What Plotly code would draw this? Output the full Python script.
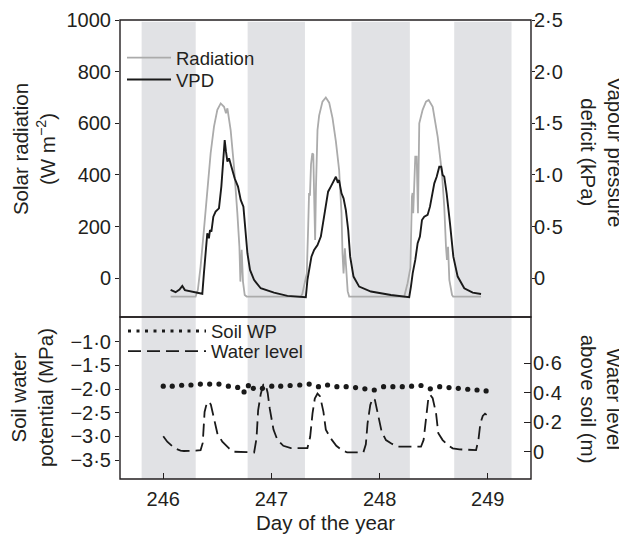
import plotly.graph_objects as go

# ---------------- data ----------------
night_start = [245.80, 246.78, 247.74, 248.69]
night_end = [246.30, 247.31, 248.28, 249.22]

rad_day = [246.068, 246.299, 246.320, 246.345, 246.376, 246.407, 246.438, 246.469, 246.500,
           246.531, 246.562, 246.580, 246.593, 246.623, 246.654, 246.685, 246.704, 246.713,
           246.725, 246.737, 246.753, 246.771,
           247.271, 247.285, 247.302, 247.327, 247.340, 247.348, 247.356, 247.366, 247.378,
           247.387, 247.396, 247.404, 247.412, 247.426, 247.441, 247.472, 247.503, 247.534,
           247.565, 247.596, 247.626, 247.648, 247.657, 247.667, 247.679, 247.691, 247.705,
           247.719,
           248.228, 248.259, 248.285, 248.299, 248.305, 248.311, 248.322, 248.330, 248.343,
           248.355, 248.367, 248.398, 248.429, 248.454, 248.491, 248.537, 248.577, 248.598,
           248.614, 248.623, 248.633, 248.645, 248.670, 248.680, 248.938]
rad_val = [-71, -71, -45, 45, 187, 342, 484, 587, 652,
           677, 664, 639, 658, 574, 432, 252, 122, -13,
           110, -13, -65, -71,
           -71, -62, -32, 19, 200, 330, 320, 440, 484,
           480, 300, 148, 350, 574, 630, 684, 700, 680,
           620, 530, 419, 252, 98, 19, 116, 20, -50,
           -71,
           -71, -19, 40, 316, 330, 252, 380, 471, 471,
           252, 600, 652, 684, 690, 664, 548, 406, 277,
           122, 71, 122, -6, -65, -71, -71]

vpd_day = [246.068, 246.114, 246.150, 246.176, 246.200, 246.260, 246.361, 246.376, 246.392,
           246.407, 246.422, 246.432, 246.445, 246.463, 246.484, 246.515, 246.537, 246.556,
           246.568, 246.580, 246.593, 246.608, 246.623, 246.639, 246.660, 246.691, 246.716,
           246.741, 246.762, 246.778, 246.802, 246.839, 246.901, 247.024, 247.148, 247.318,
           247.333, 247.349, 247.370, 247.395, 247.426, 247.457, 247.481, 247.503, 247.524,
           247.549, 247.580, 247.596, 247.611, 247.625, 247.648, 247.667, 247.688, 247.710,
           247.728, 247.759, 247.811, 247.920, 248.105, 248.274,
           248.290, 248.306, 248.330, 248.352, 248.373, 248.392, 248.413, 248.444, 248.466,
           248.491, 248.506, 248.528, 248.552, 248.570, 248.583, 248.598, 248.620, 248.651,
           248.682, 248.722, 248.783, 248.861, 248.938]
vpd_val = [-0.113, -0.135, -0.110, -0.075, -0.115, -0.128, -0.150, 0.050, 0.250,
           0.435, 0.387, 0.467, 0.450, 0.596, 0.645, 0.677, 0.887, 1.113,
           1.338, 1.225, 1.129, 1.161, 1.097, 1.048, 0.968, 0.887, 0.758,
           0.693, 0.467, 0.242, 0.080, -0.016, -0.097, -0.139, -0.171, -0.184,
           -0.016, 0.080, 0.209, 0.274, 0.322, 0.403, 0.564, 0.726, 0.838,
           0.887, 0.951, 0.983, 0.935, 0.950, 0.822, 0.774, 0.661, 0.467,
           0.209, 0.016, -0.081, -0.129, -0.162, -0.184,
           -0.081, 0.048, 0.177, 0.339, 0.403, 0.564, 0.596, 0.613, 0.693,
           0.822, 0.919, 0.983, 1.080, 1.080, 1.000, 0.983, 0.822, 0.532,
           0.209, 0.016, -0.097, -0.139, -0.152]

wp_day = [246.000, 246.083, 246.170, 246.256, 246.343, 246.429, 246.515, 246.602, 246.688,
          246.747, 246.787, 246.833, 246.917, 247.003, 247.086, 247.173, 247.262, 247.349,
          247.435, 247.519, 247.605, 247.691, 247.778, 247.864, 247.951, 248.037, 248.123,
          248.210, 248.296, 248.383, 248.469, 248.556, 248.642, 248.728, 248.815, 248.901,
          248.985]
wp_val = [-1.94, -1.94, -1.92, -1.915, -1.895, -1.895, -1.895, -1.94, -1.965,
          -2.06, -1.93, -1.985, -1.985, -1.94, -1.94, -1.925, -1.915, -1.895,
          -1.95, -1.915, -1.95, -1.95, -1.97, -1.995, -2.02, -1.95, -1.95,
          -1.95, -1.94, -1.925, -1.995, -1.95, -1.97, -1.985, -2.005, -2.02,
          -2.04]

wl_day = [246.000, 246.037, 246.080, 246.114, 246.160, 246.191, 246.300, 246.345, 246.365,
          246.382, 246.401, 246.420, 246.440, 246.469, 246.500, 246.546, 246.608, 246.650,
          246.750, 246.840, 246.862, 246.877, 246.901, 246.925, 246.945, 246.965, 246.985,
          247.000, 247.019, 247.056, 247.110, 247.180, 247.333, 247.358, 247.380, 247.401,
          247.426, 247.450, 247.481, 247.503, 247.549, 247.600, 247.650, 247.700, 247.850,
          247.873, 247.889, 247.914, 247.935, 247.957, 247.981, 248.019, 248.059, 248.105,
          248.167, 248.383, 248.407, 248.429, 248.451, 248.469, 248.491, 248.522, 248.543,
          248.583, 248.630, 248.676, 248.738, 248.892, 248.914, 248.932, 248.954, 248.975,
          248.990]
wl_val = [0.105, 0.068, 0.040, 0.020, 0.008, 0.005, 0.007, 0.010, 0.060,
          0.270, 0.325, 0.340, 0.320, 0.215, 0.125, 0.068, 0.023, 0.000,
          -0.005, -0.005, 0.090, 0.280, 0.390, 0.455, 0.460, 0.400, 0.290,
          0.230, 0.150, 0.079, 0.040, 0.025, 0.025, 0.100, 0.260, 0.360,
          0.395, 0.375, 0.270, 0.150, 0.090, 0.040, 0.012, -0.005, -0.005,
          0.050, 0.193, 0.317, 0.363, 0.351, 0.261, 0.136, 0.079, 0.057,
          0.034, 0.034, 0.080, 0.238, 0.363, 0.385, 0.363, 0.261, 0.125,
          0.079, 0.045, 0.023, 0.016, 0.011, 0.080, 0.193, 0.243, 0.258,
          0.250]

x_ticks = [246, 247, 248, 249]
rad_ticks = [0, 200, 400, 600, 800, 1000]
rad_ticktext = ["0", "200", "400", "600", "800", "1000"]
vpd_ticks = [0, 0.5, 1.0, 1.5, 2.0, 2.5]
vpd_ticktext = ["0", "0·5", "1·0", "1·5", "2·0", "2·5"]
wp_ticks = [-3.5, -3.0, -2.5, -2.0, -1.5, -1.0]
wp_ticktext = ["−3·5", "−3·0", "−2·5", "−2·0", "−1·5", "−1·0"]
wl_ticks = [0, 0.2, 0.4, 0.6]
wl_ticktext = ["0", "0·2", "0·4", "0·6"]

# ---------------- styling ----------------
FONT = "Liberation Sans, Arial, Helvetica, sans-serif"
INK = "#231f20"
TICK_SIZE = 20
TITLE_SIZE = 20.5
LEG_SIZE = 18.5
SPLIT = 0.353
# page body adds an 8px offset, so the figure is laid out 8px up/left
FIG_W, FIG_H = 619, 529
M_L, M_R, M_T, M_B = 112, 96, 12, 58
PLOT_W = FIG_W - M_L - M_R  # 411
PLOT_H = FIG_H - M_T - M_B  # 459


def py(px):
    """paper y for a page pixel row (reference coordinates)"""
    return (M_T + PLOT_H - (px - 8)) / PLOT_H


fig = go.Figure()

fig.add_trace(go.Scatter(x=rad_day, y=rad_val, mode="lines", name="Radiation",
                         line=dict(color="#ababab", width=1.8),
                         xaxis="x", yaxis="y", legend="legend"))
fig.add_trace(go.Scatter(x=vpd_day, y=vpd_val, mode="lines", name="VPD",
                         line=dict(color="#1a1a1a", width=1.9),
                         xaxis="x", yaxis="y2", legend="legend2"))
fig.add_trace(go.Scatter(x=wp_day, y=wp_val, mode="markers", name="Soil WP",
                         marker=dict(color="#1a1a1a", size=5.2),
                         xaxis="x", yaxis="y3", showlegend=False))
fig.add_trace(go.Scatter(x=[None], y=[None], mode="lines", name="Soil WP",
                         line=dict(color="#1a1a1a", width=3, dash="3px,5.5px"),
                         xaxis="x", yaxis="y3", legend="legend3"))
fig.add_trace(go.Scatter(x=wl_day, y=wl_val, mode="lines", name="Water level",
                         line=dict(color="#1a1a1a", width=1.8, dash="13px,6px"),
                         xaxis="x", yaxis="y4", legend="legend4"))

shapes = []
for s, e in zip(night_start, night_end):
    shapes.append(dict(type="rect", xref="x", yref="paper", x0=s, x1=e, y0=0, y1=0.996,
                       fillcolor="#e1e2e5", line=dict(width=0), layer="below"))
shapes.append(dict(type="rect", xref="paper", yref="paper", x0=0, x1=1, y0=SPLIT, y1=1,
                   line=dict(color=INK, width=1.4), layer="above"))
shapes.append(dict(type="rect", xref="paper", yref="paper", x0=0, x1=1, y0=0, y1=SPLIT,
                   line=dict(color=INK, width=1.4), layer="above"))

tickfont = dict(family=FONT, size=TICK_SIZE, color=INK)
common_y = dict(showgrid=False, zeroline=False, showline=False, tickfont=tickfont,
                tickcolor=INK, tickwidth=1.3, automargin=False)

tfont = dict(family=FONT, size=TITLE_SIZE, color=INK)
annotations = [
    dict(text="Solar radiation<br>(W m<sup>−2</sup>)", xref="paper", yref="paper",
         x=-0.209, y=py(149), textangle=-90, showarrow=False, xanchor="center",
         yanchor="middle", font=tfont),
    dict(text="Vapour pressure<br>deficit (kPa)", xref="paper", yref="paper",
         x=1.172, y=py(152), textangle=90, showarrow=False, xanchor="center",
         yanchor="middle", font=tfont),
    dict(text="Soil water<br>potential (MPa)", xref="paper", yref="paper",
         x=-0.214, y=py(398), textangle=-90, showarrow=False, xanchor="center",
         yanchor="middle", font=tfont),
    dict(text="Water level<br>above soil (m)", xref="paper", yref="paper",
         x=1.171, y=py(399), textangle=90, showarrow=False, xanchor="center",
         yanchor="middle", font=tfont),
    dict(text="Day of the year", xref="paper", yref="paper",
         x=0.5, y=py(522), showarrow=False, xanchor="center", yanchor="middle", font=tfont),
]


def leg(yc, width, dx):
    return dict(x=dx / PLOT_W, y=py(yc), xanchor="left", yanchor="middle",
                bgcolor="rgba(0,0,0,0)",
                font=dict(family=FONT, size=LEG_SIZE, color=INK), itemwidth=width,
                tracegroupgap=0)


fig.update_layout(
    width=FIG_W, height=FIG_H, autosize=False,
    margin=dict(l=M_L, r=M_R, t=M_T, b=M_B, autoexpand=False),
    paper_bgcolor="white", plot_bgcolor="rgba(0,0,0,0)",
    font=dict(family=FONT, color=INK),
    xaxis=dict(domain=[0, 1], anchor="y3", range=[245.6, 249.4], tickvals=x_ticks,
               ticks="inside", ticklen=6, tickwidth=1.3, tickcolor=INK, automargin=False,
               ticklabelstandoff=6,
               showgrid=False, zeroline=False, showline=False, tickfont=tickfont),
    yaxis=dict(domain=[SPLIT, 1], anchor="x", range=[-150, 1000], tickvals=rad_ticks,
               ticktext=rad_ticktext, ticks="outside", ticklen=4, **common_y),
    yaxis2=dict(overlaying="y", side="right", anchor="x", range=[-0.375, 2.5],
                tickvals=vpd_ticks, ticktext=vpd_ticktext, ticks="outside", ticklen=3,
                ticklabelstandoff=-5, **common_y),
    yaxis3=dict(domain=[0, SPLIT], anchor="x", range=[-3.90, -0.478], tickvals=wp_ticks,
                ticktext=wp_ticktext, ticks="outside", ticklen=4, **common_y),
    yaxis4=dict(overlaying="y3", side="right", anchor="x", range=[-0.185, 0.914],
                tickvals=wl_ticks, ticktext=wl_ticktext, ticks="inside", ticklen=7,
                ticklabelstandoff=1, **common_y),
    legend=leg(58, 44, 2),
    legend2=leg(80, 44, 2),
    legend3=leg(331.5, 78, 3),
    legend4=leg(351.5, 78, 3),
    shapes=shapes,
    annotations=annotations,
    showlegend=True,
)

fig.write_html("out.html")
